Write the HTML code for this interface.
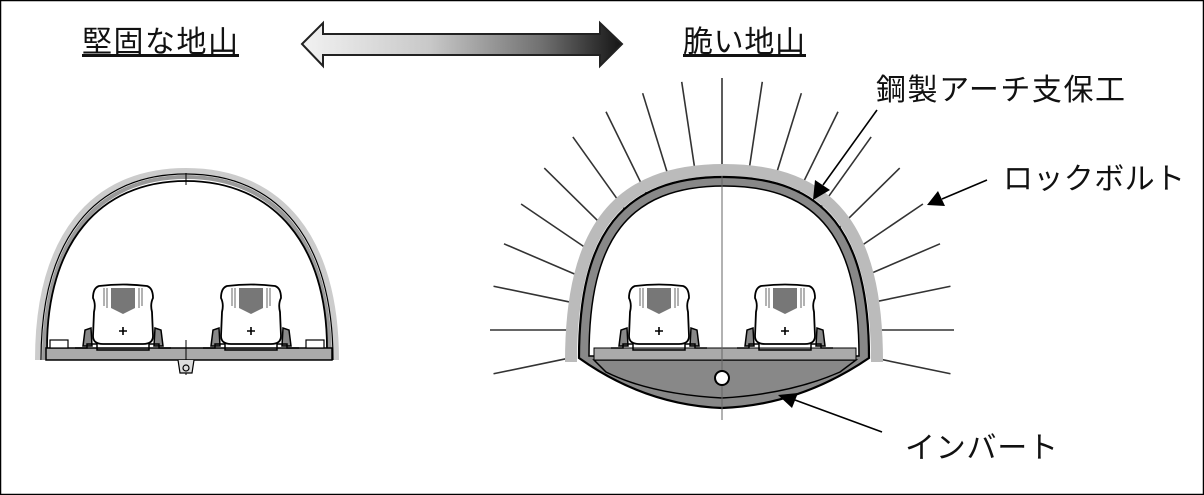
<!DOCTYPE html>
<html><head><meta charset="utf-8"><style>
html,body{margin:0;padding:0;background:#fff;}
svg{display:block;}
text{font-family:"Liberation Sans","Noto Sans CJK JP",sans-serif;fill:#111;}
</style></head><body>
<svg width="1204" height="495" viewBox="0 0 1204 495" xmlns="http://www.w3.org/2000/svg">
<defs>
<linearGradient id="g" x1="0" x2="1" y1="0" y2="0">
<stop offset="0" stop-color="#f2f2f2"/><stop offset="0.4" stop-color="#c8c8c8"/><stop offset="0.75" stop-color="#707070"/><stop offset="1" stop-color="#151515"/>
</linearGradient>
<g id="train">
<path d="M-40,60 L-38,44 L-32,42 L-31,60 Z M40,60 L38,44 L32,42 L31,60 Z" fill="#888" stroke="#000" stroke-width="1.5"/>
<path d="M-24,0 Q0,-3 24,0 Q30,2 30,12 Q27,18 29,26 L30,50 Q30,58 20,58 L-20,58 Q-30,58 -30,50 L-29,26 Q-27,18 -30,12 Q-30,2 -24,0 Z" fill="#fff" stroke="#000" stroke-width="1.8"/>
<path d="M-12,2 L12,2 L12,22 L0,28 L-12,22 Z" fill="#777"/>
<path d="M-19,2 v18 M-16,2 v20 M16,2 v20 M19,2 v18" stroke="#999" stroke-width="1.5"/>
<path d="M-4,45 h8 M0,41 v8" stroke="#000" stroke-width="1.6"/>
<path d="M-48,62 h12 v-4 h10 v6 h52 v-6 h10 v4 h12" fill="none" stroke="#000" stroke-width="1.5"/>
</g>
</defs>
<rect x="0.5" y="0.5" width="1203" height="494" fill="#fff" stroke="#000" stroke-width="1.5"/>

<text x="82" y="52" font-size="30" textLength="156">堅固な地山</text>
<rect x="82" y="54" width="157" height="3" fill="#111"/>
<text x="683" y="52" font-size="30" textLength="122">脆い地山</text>
<rect x="683" y="54" width="123" height="3" fill="#111"/>

<path d="M302,44 L323,23 L323,34 L600,34 L600,23 L622,44 L600,66 L600,55 L323,55 L323,66 Z" fill="url(#g)" stroke="#222" stroke-width="2"/>

<!-- LEFT TUNNEL -->
<path d="M38,360 C38,238 92,171 186,171 C280,171 336,238 336,360" fill="none" stroke="#ccc" stroke-width="6"/>
<path d="M41,360 C41,240 94,174 186,174 C278,174 333,240 333,360" fill="none" stroke="#000" stroke-width="1.2"/>
<path d="M44,360 C44,242 96,177 186,177 C276,177 330,242 330,360" fill="none" stroke="#999" stroke-width="4"/>
<path d="M47,348 C47,245 98,181 186,181 C274,181 327,245 327,348" fill="none" stroke="#000" stroke-width="1.8"/>
<rect x="46" y="348" width="286" height="12" fill="#aaa" stroke="#000" stroke-width="1.5"/>
<path d="M186,173 v12 M186,340 v35" stroke="#000" stroke-width="1"/>
<path d="M178,360 L180,373 L192,373 L194,360" fill="#ddd" stroke="#000" stroke-width="1.2"/>
<circle cx="186" cy="368" r="3" fill="none" stroke="#000" stroke-width="1.2"/>
<rect x="50" y="340" width="18" height="8" fill="#fff" stroke="#000" stroke-width="1.2"/>
<rect x="306" y="340" width="18" height="8" fill="#fff" stroke="#000" stroke-width="1.2"/>
<use href="#train" x="123" y="286"/>
<use href="#train" x="251" y="286"/>

<!-- RIGHT TUNNEL -->
<g id="bolts" stroke="#333" stroke-width="1.6"></g>
<path d="M571,362 C571,228 618,170 724,170 C830,170 877,228 877,362" fill="none" stroke="#bbb" stroke-width="12"/>
<path d="M579,358 C579,234 622,177 724,177 C826,177 869,234 869,358 Q800,405 722,408 Q645,405 579,358 Z" fill="#888" stroke="#000" stroke-width="2.2"/>
<path d="M589,356 C589,240 628,186 724,186 C820,186 859,240 859,356 Z" fill="#fff" stroke="#000" stroke-width="1.5"/>
<path d="M594,360 L856,360 L840,372 Q790,394 722,398 Q650,394 606,372 Z" fill="#888" stroke="#000" stroke-width="1.5"/>
<rect x="594" y="348" width="262" height="12" fill="#aaa" stroke="#000" stroke-width="1"/>
<path d="M722,176 V420" stroke="#666" stroke-width="1"/>
<circle cx="722" cy="378" r="7" fill="#fff" stroke="#000" stroke-width="2"/>
<use href="#train" x="659" y="286"/>
<use href="#train" x="785" y="286"/>

<text x="876" y="100" font-size="30" textLength="249">鋼製アーチ支保工</text>
<line x1="877" y1="110" x2="823" y2="185" stroke="#000" stroke-width="1.6"/>
<path d="M813,200 L815,180 L830,190 Z" fill="#000"/>
<text x="1003" y="189" font-size="30" textLength="182">ロックボルト</text>
<line x1="987" y1="180" x2="942" y2="199" stroke="#000" stroke-width="1.6"/>
<path d="M927,205 L938,191 L945,206 Z" fill="#000"/>
<text x="905" y="458" font-size="30" textLength="153">インバート</text>
<line x1="882" y1="432" x2="795" y2="400" stroke="#000" stroke-width="1.6"/>
<path d="M778,395 L798,393 L792,408 Z" fill="#000"/>
</svg>
<script>
(function(){
var g=document.getElementById('bolts');var cx=722,cy=330;
for(var i=-10;i<=190;i+=10){
 var a=i*Math.PI/180;var c=Math.cos(a),s=Math.sin(a);
 var x1=cx+152*c,y1=cy-158*s,x2=cx+232*c,y2=cy-252*s;
 var l=document.createElementNS('http://www.w3.org/2000/svg','line');
 l.setAttribute('x1',x1);l.setAttribute('y1',y1);l.setAttribute('x2',x2);l.setAttribute('y2',y2);
 g.appendChild(l);
}
})();
</script>
</body></html>
